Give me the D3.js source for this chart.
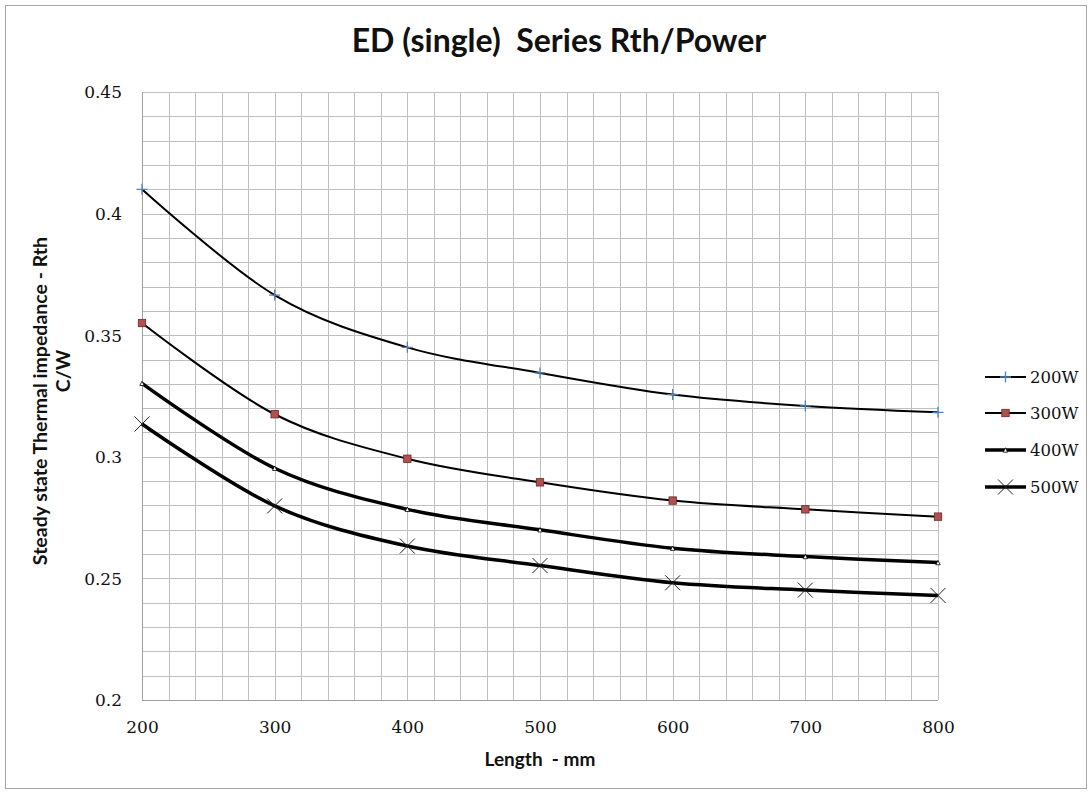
<!DOCTYPE html>
<html>
<head>
<meta charset="utf-8">
<script src="https://cdn.jsdelivr.net/npm/d3@7"></script>
<style>
  html, body { margin: 0; padding: 0; background: #fff; }
  svg { display: block; }
</style>
</head>
<body>
<svg id="chart" width="1092" height="794"></svg>
<script>
// ---- data ----
const lengths = [200, 300, 400, 500, 600, 700, 800];
const series200W = [0.410, 0.3665, 0.345, 0.3345, 0.3256, 0.3209, 0.3183];
const series300W = [0.355, 0.3175, 0.2992, 0.2895, 0.2820, 0.2784, 0.2754];
const series400W = [0.3302, 0.2953, 0.2784, 0.2700, 0.2624, 0.2590, 0.2565];
const series500W = [0.3135, 0.2798, 0.2633, 0.2553, 0.2482, 0.2452, 0.2430];
const seriesNames = ["200W", "300W", "400W", "500W"];
const xTicks = [200, 300, 400, 500, 600, 700, 800];
const yTicks = [0.2, 0.25, 0.3, 0.35, 0.4, 0.45];

const svg = d3.select("#chart");
const W = 1092, H = 794;
const plot = { left: 142, right: 938, top: 92, bottom: 700 };

// outer border
svg.append("rect").attr("x", 5.5).attr("y", 5.5).attr("width", W - 11).attr("height", H - 11)
  .attr("fill", "#fff").attr("stroke", "#a6a6a6").attr("stroke-width", 1);

const x = d3.scaleLinear().domain([200, 800]).range([plot.left, plot.right]);
const y = d3.scaleLinear().domain([0.2, 0.45]).range([plot.bottom, plot.top]);

// grid
const g = svg.append("g");
const vGrid = d3.range(200, 800.1, 20);
const hGrid = d3.range(0, 26).map(i => 0.2 + i * 0.01);
g.selectAll("line.v").data(vGrid).enter().append("line")
  .attr("x1", d => Math.round(x(d)) + 0.5).attr("x2", d => Math.round(x(d)) + 0.5)
  .attr("y1", plot.top).attr("y2", plot.bottom)
  .attr("stroke", "#bfbfbf").attr("stroke-width", 1);
g.selectAll("line.h").data(hGrid).enter().append("line")
  .attr("y1", d => Math.round(y(d)) + 0.5).attr("y2", d => Math.round(y(d)) + 0.5)
  .attr("x1", plot.left).attr("x2", plot.right)
  .attr("stroke", "#bfbfbf").attr("stroke-width", 1);
// axes lines
svg.append("line").attr("x1", plot.left + 0.5).attr("x2", plot.left + 0.5)
  .attr("y1", plot.top).attr("y2", plot.bottom).attr("stroke", "#a0a0a0");
svg.append("line").attr("x1", plot.left).attr("x2", plot.right)
  .attr("y1", plot.bottom + 0.5).attr("y2", plot.bottom + 0.5).attr("stroke", "#a0a0a0");

// axes via d3
const tickFont = "'DejaVu Serif', serif";
const xAxis = d3.axisBottom(x).tickValues(xTicks).tickSize(0).tickPadding(0).tickFormat(d3.format("d"));
const xg = svg.append("g").attr("transform", `translate(0,${plot.bottom})`).call(xAxis);
xg.select(".domain").remove();
xg.selectAll("text").attr("font-family", tickFont).attr("font-size", 17).attr("fill", "#111")
  .attr("dy", null).attr("y", 33);

const yAxis = d3.axisLeft(y).tickValues(yTicks).tickSize(0).tickPadding(0)
  .tickFormat(d => String(+d.toFixed(2)));
const yg = svg.append("g").attr("transform", `translate(${plot.left - 20},0)`).call(yAxis);
yg.select(".domain").remove();
yg.selectAll("text").attr("font-family", tickFont).attr("font-size", 17).attr("fill", "#111")
  .attr("dy", "0.35em").attr("x", 0);

// title
svg.append("text").attr("x", 559).attr("y", 52).attr("text-anchor", "middle")
  .attr("font-family", "Lato, sans-serif").attr("font-weight", "bold").attr("font-size", 32)
  .attr("fill", "#111").attr("xml:space", "preserve").text("ED (single)  Series Rth/Power");

// axis titles
svg.append("text").attr("x", 540).attr("y", 766).attr("text-anchor", "middle")
  .attr("font-family", "Lato, sans-serif").attr("font-weight", "bold").attr("font-size", 19)
  .attr("fill", "#111").attr("xml:space", "preserve").text("Length  - mm");
svg.append("text").attr("transform", "translate(47,401) rotate(-90)").attr("text-anchor", "middle")
  .attr("font-family", "Lato, sans-serif").attr("font-weight", "bold").attr("font-size", 19.5)
  .attr("fill", "#111").text("Steady state Thermal impedance - Rth");
svg.append("text").attr("transform", "translate(70,371) rotate(-90)").attr("text-anchor", "middle")
  .attr("font-family", "Lato, sans-serif").attr("font-weight", "bold").attr("font-size", 19.5)
  .attr("fill", "#111").text("C/W");

// series
const allSeries = [series200W, series300W, series400W, series500W];
const widths = [2, 2, 3.5, 3.5];
const line = d3.line().x(d => x(d[0])).y(d => y(d[1])).curve(d3.curveCatmullRom.alpha(0));

function drawMarker(sel, i, cx, cy) {
  if (i === 0) {
    const s = 5.5;
    sel.append("path").attr("d", `M${cx - s},${cy}H${cx + s}M${cx},${cy - s}V${cy + s}`)
      .attr("stroke", "#4f81bd").attr("stroke-width", 1.3).attr("fill", "none");
  } else if (i === 1) {
    const s = 3.7;
    sel.append("rect").attr("x", cx - s).attr("y", cy - s).attr("width", 2 * s).attr("height", 2 * s)
      .attr("fill", "#b0504f").attr("stroke", "#6b2525").attr("stroke-width", 0.8);
  } else if (i === 2) {
    const s = 2.2;
    sel.append("path").attr("d", `M${cx},${cy - s}L${cx + s},${cy + s}L${cx - s},${cy + s}Z`)
      .attr("fill", "#fff").attr("stroke", "#000").attr("stroke-width", 0.8);
  } else {
    const s = 7.5;
    sel.append("path").attr("d", `M${cx - s},${cy - s}L${cx + s},${cy + s}M${cx - s},${cy + s}L${cx + s},${cy - s}`)
      .attr("stroke", "#222").attr("stroke-width", 1).attr("fill", "none");
  }
}

allSeries.forEach((vals, i) => {
  const pts = lengths.map((L, k) => [L, vals[k]]);
  svg.append("path").datum(pts).attr("d", line).attr("fill", "none")
    .attr("stroke", "#000").attr("stroke-width", widths[i]).attr("stroke-linejoin", "round");
  const mg = svg.append("g");
  pts.forEach(p => drawMarker(mg, i, x(p[0]), y(p[1])));
});

// legend
const legendY = [377, 413, 450, 487];
seriesNames.forEach((name, i) => {
  const ly = legendY[i];
  const lg = svg.append("g");
  lg.append("line").attr("x1", 985).attr("x2", 1026).attr("y1", ly).attr("y2", ly)
    .attr("stroke", "#000").attr("stroke-width", widths[i]);
  drawMarker(lg, i, 1005.5, ly);
  lg.append("text").attr("x", 1030).attr("y", ly).attr("dy", "0.35em")
    .attr("font-family", tickFont).attr("font-size", 16.5).attr("fill", "#111").text(name);
});
</script>
</body>
</html>
